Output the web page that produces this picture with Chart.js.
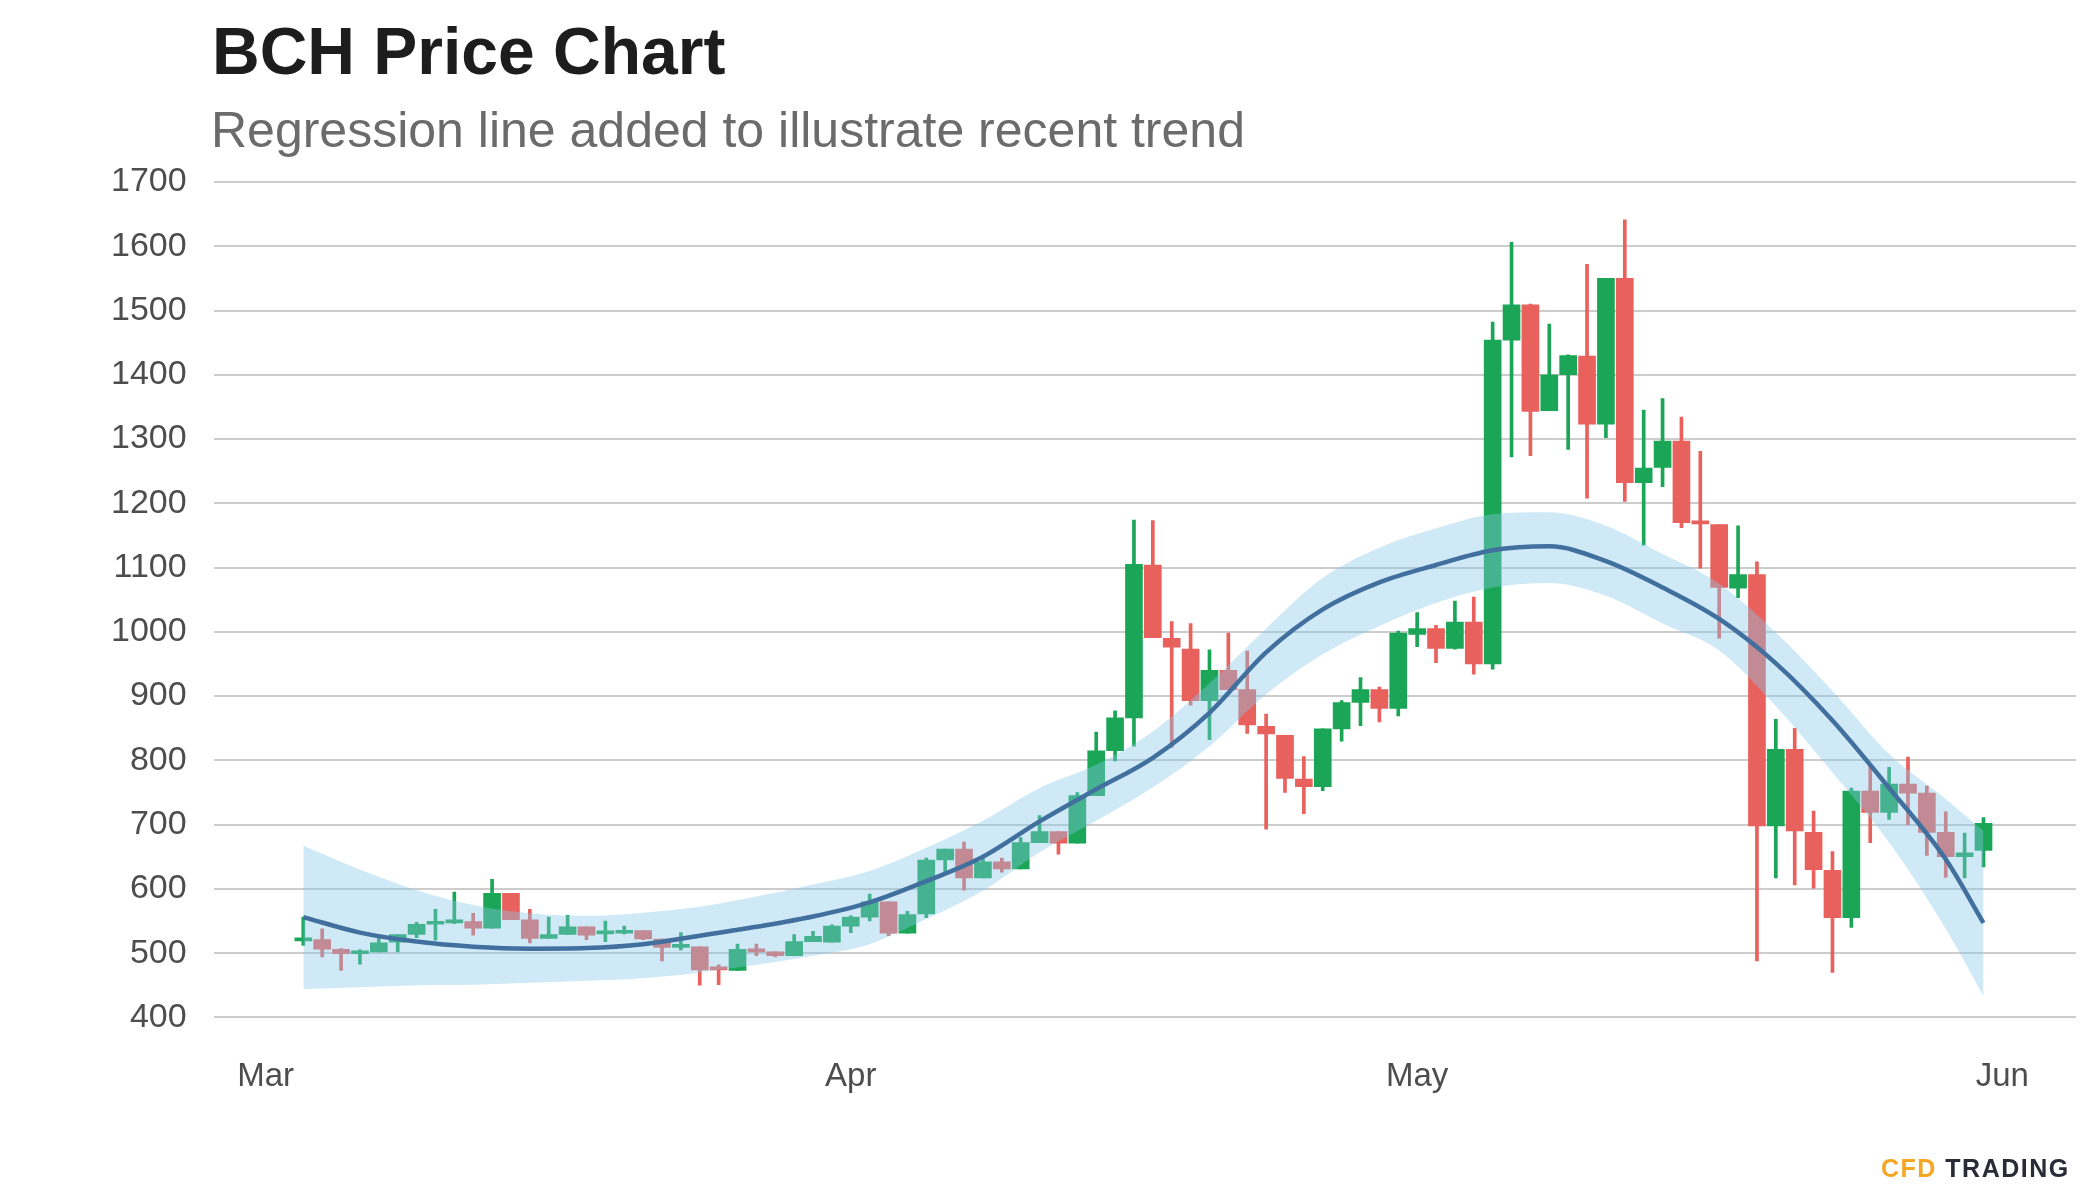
<!DOCTYPE html>
<html>
<head>
<meta charset="utf-8">
<title>BCH Price Chart</title>
<script src="https://cdn.jsdelivr.net/npm/chart.js@4.4.1/dist/chart.umd.min.js"></script>
<style>
  html, body { margin: 0; padding: 0; background: #fff; }
  #wrap { position: relative; width: 2100px; height: 1200px; overflow: hidden; font-family: "Liberation Sans", Arial, sans-serif; }
  #title { position: absolute; left: 212px; top: 18px; font-size: 66px; line-height: 66px; font-weight: bold; color: #1d1d1d; }
  #subtitle { position: absolute; left: 211px; top: 105px; font-size: 50px; line-height: 50px; color: #6b6b6b; }
  #brand { position: absolute; left: 1881px; top: 1156px; font-size: 25px; line-height: 25px; font-weight: bold; letter-spacing: 1.5px; color: #2b2b38; }
  #brand span { color: #f5a623; }
  canvas { position: absolute; left: 0; top: 0; }
</style>
</head>
<body>
<div id="wrap">
  <canvas id="chart" width="2100" height="1200"></canvas>
  <div id="title">BCH Price Chart</div>
  <div id="subtitle">Regression line added to illustrate recent trend</div>
  <div id="brand"><span>CFD</span> TRADING</div>
</div>
<script>
// days counted from Mar 1 (= 0); candles run Mar 3 .. May 31
var firstDay = 2;

var opens  = [519,521,506,499,502,517,529,545,547,549,539,593,552,523,529,541,530,531,535,522,509,510,476,473,506,502,496,518,517,
              542,556,580,531,561,645,662,617,642,631,672,689,671,745,815,866,1104,990,973,893,940,910,853,839,771,759,849,890,910,881,
              996,1005,974,1015,950,1454,1509,1344,1400,1429,1323,1550,1232,1256,1297,1170,1167,1068,1089,698,817,688,629,555,752,719,763,749,688,650,660];
var highs  = [556,538,507,505,526,529,548,568,595,562,615,593,568,556,559,541,550,542,535,522,532,510,482,514,514,502,529,534,544,
              558,592,580,565,648,662,673,650,648,680,714,689,750,844,877,1174,1173,1016,1013,972,998,970,872,839,806,849,893,929,914,1001,
              1030,1010,1048,1054,1482,1606,1510,1479,1431,1572,1550,1641,1345,1363,1334,1281,1167,1165,1109,864,850,721,658,757,791,789,805,760,720,687,711];
var lows   = [512,494,473,483,502,502,524,520,546,528,539,552,516,523,529,521,518,530,521,488,505,450,451,473,496,494,496,518,517,
              532,550,527,531,555,622,598,617,626,631,672,654,671,745,799,822,991,820,886,832,910,842,693,750,717,753,830,854,860,869,
              977,952,973,934,942,1272,1274,1344,1284,1208,1302,1203,1135,1226,1162,1099,990,1053,488,617,606,601,470,540,672,708,700,652,618,617,634];
var closes = [521,506,499,502,516,529,545,547,549,539,593,552,523,529,541,528,533,534,522,509,511,474,474,506,502,496,518,526,542,
              556,580,531,560,645,662,617,642,631,672,689,671,745,815,866,1105,991,976,893,940,910,855,841,772,759,849,890,910,881,998,
              1005,974,1015,950,1454,1509,1343,1400,1430,1323,1550,1232,1255,1297,1170,1168,1069,1089,698,817,690,630,555,752,719,763,749,688,650,656,702];

var trendDays  = [2,5,8,11,14,17,20,23,26,29,32,35,38,41,44,47,50,53,56,59,62,65,68,71,74,77,80,83,86,89,91];
var trendMid   = [556,532,518,510,507,508,514,527,541,557,579,612,650,705,755,804,874,968,1035,1077,1104,1127,1133,1110,1069,1020,951,862,757,646,547];
var trendUpper = [667,630,598,575,562,558,563,572,588,607,628,664,706,757,793,845,920,1005,1084,1131,1161,1183,1186,1165,1121,1075,999,908,810,740,690];
var trendLower = [444,447,450,451,454,457,461,470,482,496,514,553,597,657,706,758,822,903,965,1009,1045,1069,1076,1056,1013,971,884,781,672,538,433];

var monthTicks  = [0, 31, 61, 92];
var monthLabels = ['Mar', 'Apr', 'May', 'Jun'];

var green = '#1aa656';
var red = '#e8615c';

function pts(days, vals) {
    return vals.map(function(v, i) { return { x: days[i], y: v }; });
}
var bodies = opens.map(function(o, i) { return { x: firstDay + i, y: [o, closes[i]] }; });
var wicks  = lows.map(function(l, i) { return { x: firstDay + i, y: [l, highs[i]] }; });
function candleColor(ctx) {
    var i = ctx.dataIndex;
    return closes[i] >= opens[i] ? green : red;
}

var ctx = document.getElementById('chart');
var chart = new Chart(ctx, {
    type: 'bar',
    data: {
        datasets: [
            {
                type: 'line', label: 'Trend', data: pts(trendDays, trendMid), order: 0,
                borderColor: '#41709f', borderWidth: 4.5, pointRadius: 0,
                cubicInterpolationMode: 'monotone', fill: false
            },
            {
                type: 'line', label: 'Upper', data: pts(trendDays, trendUpper), order: 1,
                borderWidth: 0, borderColor: 'rgba(0,0,0,0)', pointRadius: 0,
                cubicInterpolationMode: 'monotone',
                fill: '+1', backgroundColor: 'rgba(135,200,232,0.4)'
            },
            {
                type: 'line', label: 'Lower', data: pts(trendDays, trendLower), order: 1,
                borderWidth: 0, borderColor: 'rgba(0,0,0,0)', pointRadius: 0,
                cubicInterpolationMode: 'monotone', fill: false
            },
            {
                label: 'Body', data: bodies, order: 2, grouped: false,
                backgroundColor: candleColor, barThickness: 17, minBarLength: 3
            },
            {
                label: 'Wick', data: wicks, order: 3, grouped: false,
                backgroundColor: candleColor, barThickness: 3
            }
        ]
    },
    options: {
        responsive: false,
        animation: false,
        layout: { padding: { left: 84, right: 24, top: 182, bottom: 71 } },
        plugins: {
            legend: { display: false },
            tooltip: { enabled: false }
        },
        scales: {
            x: {
                type: 'linear', offset: false, min: -2.75, max: 95.9,
                grid: { display: false },
                border: { display: false },
                afterBuildTicks: function(axis) {
                    axis.ticks = monthTicks.map(function(v) { return { value: v }; });
                },
                ticks: {
                    autoSkip: false, maxRotation: 0, padding: 32, color: '#4d4d4d',
                    font: { family: '"Liberation Sans", Arial, sans-serif', size: 33 },
                    callback: function(v) { return monthLabels[monthTicks.indexOf(v)]; }
                }
            },
            y: {
                min: 400, max: 1700,
                grid: { color: '#cccccc', lineWidth: 2, drawTicks: false },
                border: { display: false },
                ticks: {
                    stepSize: 50, padding: 27, color: '#4d4d4d',
                    font: { family: '"Liberation Sans", Arial, sans-serif', size: 34 },
                    callback: function(v) { return v % 100 === 0 ? String(v) : ''; }
                }
            }
        }
    }
});
</script>
</body>
</html>
